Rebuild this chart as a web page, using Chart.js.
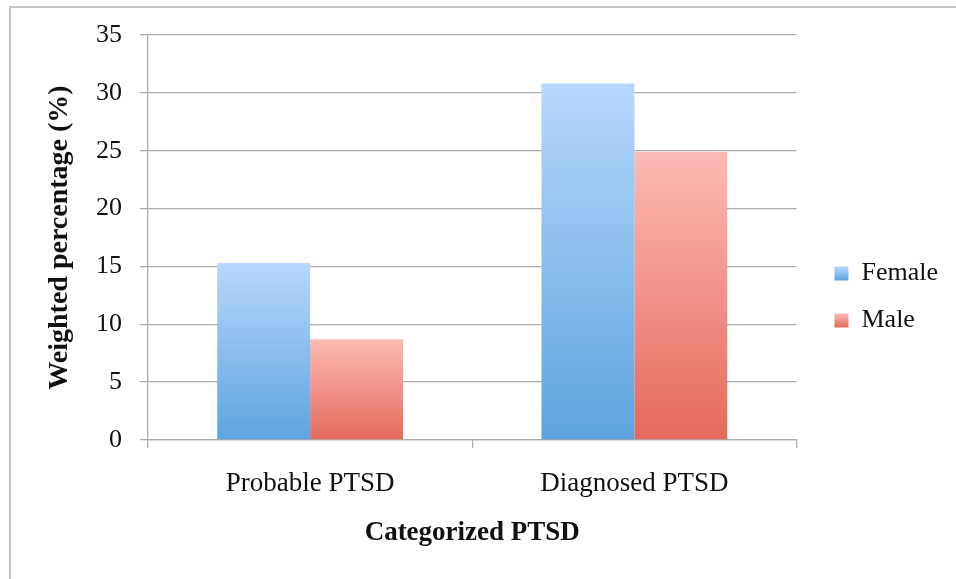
<!DOCTYPE html>
<html>
<head>
<meta charset="utf-8">
<script src="https://cdn.jsdelivr.net/npm/chart.js@4.4.0/dist/chart.umd.min.js"></script>
<style>
  html, body { margin: 0; padding: 0; background: #ffffff; }
  #wrap { position: relative; width: 956px; height: 579px; overflow: hidden; background: #ffffff; }
  #frame { position: absolute; left: 9px; top: 6px; width: 1200px; height: 1200px;
           border-left: 2px solid #c4c4c4; border-top: 2px solid #c4c4c4; }
  canvas { position: absolute; left: 0; top: 0; }
</style>
</head>
<body>
<div id="wrap">
  <div id="frame"></div>
  <canvas id="chart" width="956" height="579"></canvas>
</div>
<script>
// Weighted percentage of PTSD by sex
const categories = ['Probable PTSD', 'Diagnosed PTSD'];
const seriesNames = ['Female', 'Male'];
const femaleValues = [15.3, 30.8];
const maleValues = [8.7, 24.9];
const yMin = 0;
const yMax = 35;
const yStep = 5;

const FONT = "'Liberation Serif', 'Times New Roman', serif";
const GRID = '#ababab';

const femaleShades = ['#b7d7fd', '#5da4df'];
const maleShades = ['#fdbab5', '#e46a5b'];

// Vertical gradient running from the top of each bar to the baseline
function barFill(shades) {
  return (ctx) => {
    if (ctx.type !== 'data') return shades[1];
    const chart = ctx.chart;
    const y = chart.scales && chart.scales.y;
    if (!y) return shades[1];
    const top = y.getPixelForValue(ctx.raw);
    const base = y.getPixelForValue(0);
    if (!isFinite(top) || !isFinite(base) || top === base) return shades[1];
    const g = chart.ctx.createLinearGradient(0, top, 0, base);
    g.addColorStop(0, shades[0]);
    g.addColorStop(1, shades[1]);
    return g;
  };
}

// Legend swatches use the same light-to-dark shading as the bars
const legendShading = {
  id: 'legendShading',
  beforeDraw(chart) {
    const lg = chart.legend;
    if (!lg || !lg.legendItems || !lg.legendHitBoxes) return;
    const all = [femaleShades, maleShades];
    lg.legendItems.forEach((item, i) => {
      const hb = lg.legendHitBoxes[i];
      if (!hb || !isFinite(hb.top)) return;
      const g = chart.ctx.createLinearGradient(0, hb.top + 6, 0, hb.top + hb.height - 6);
      g.addColorStop(0, all[i][0]);
      g.addColorStop(1, all[i][1]);
      item.fillStyle = g;
      item.lineWidth = 0;
    });
  }
};

new Chart(document.getElementById('chart'), {
  type: 'bar',
  data: {
    labels: categories,
    datasets: [
      { label: seriesNames[0], data: femaleValues, backgroundColor: barFill(femaleShades),
        borderWidth: 0, barPercentage: 1, categoryPercentage: 0.573 },
      { label: seriesNames[1], data: maleValues, backgroundColor: barFill(maleShades),
        borderWidth: 0, barPercentage: 1, categoryPercentage: 0.573 }
    ]
  },
  options: {
    responsive: false,
    animation: false,
    devicePixelRatio: 1,
    layout: { padding: { top: 35, right: 8, bottom: 20, left: 0 } },
    plugins: {
      legend: {
        position: 'right',
        labels: {
          boxWidth: 14, boxHeight: 14, padding: 21, color: '#111',
          font: { family: FONT, size: 26 }
        }
      },
      tooltip: { enabled: false },
      title: { display: false }
    },
    scales: {
      x: {
        grid: { drawOnChartArea: false, drawTicks: true, tickLength: 8, color: GRID, lineWidth: 1.3, offset: true },
        border: { color: GRID, width: 1.3 },
        ticks: { padding: 20, color: '#111', font: { family: FONT, size: 27 } },
        title: { display: true, text: 'Categorized PTSD', color: '#111',
                 font: { family: FONT, size: 27, weight: 'bold' }, padding: { top: 0, bottom: 10 } },
        afterFit(s) { s.height = 119; }
      },
      y: {
        min: yMin, max: yMax,
        grid: { color: GRID, lineWidth: 1.3, tickLength: 8, drawTicks: true },
        border: { color: GRID, width: 1.3 },
        ticks: { stepSize: yStep, padding: 18, color: '#111', font: { family: FONT, size: 26 } },
        title: { display: true, text: 'Weighted percentage (%)', color: '#111',
                 font: { family: FONT, size: 28, weight: 'bold' }, padding: { top: 43, bottom: 0 } },
        afterFit(s) { s.width = 148; }
      },
      gap: {
        position: 'right', display: true,
        grid: { display: false }, border: { display: false }, ticks: { display: false },
        afterFit(s) { s.width = 17; }
      }
    }
  },
  plugins: [legendShading]
});
</script>
</body>
</html>
